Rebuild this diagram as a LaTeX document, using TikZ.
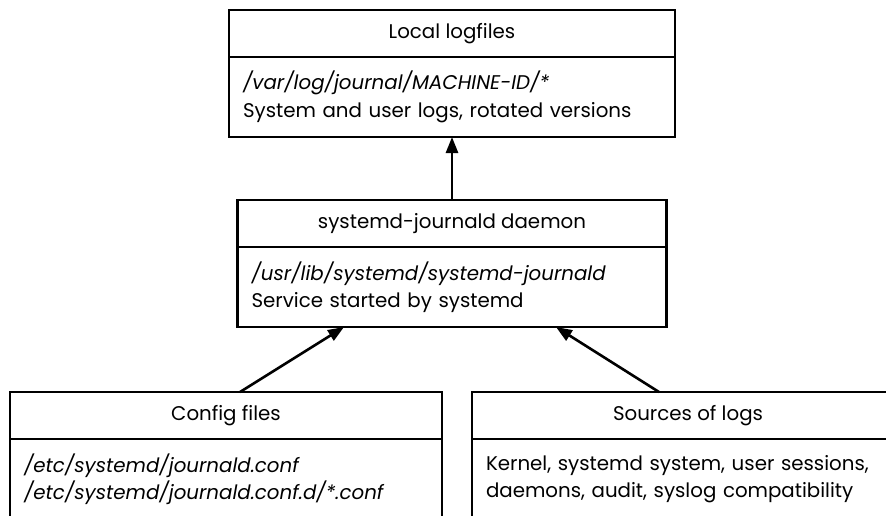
\documentclass[tikz,border=0pt]{standalone}
\usepackage{fontspec}
\setmainfont{Poppins}
\usetikzlibrary{arrows.meta, positioning}

\begin{document}
\begin{tikzpicture}[
  x=1pt, y=1pt,
  font=\fontsize{19.8}{27.5}\selectfont,
  head/.style = {draw, line width=2.5pt, outer sep=0pt, minimum height=47pt, align=center},
  body/.style = {draw, line width=2.5pt, outer sep=0pt, minimum height=80pt, inner xsep=14pt, align=left},
  feed/.style = {line width=2.6pt, -{Triangle[length=16pt, width=12pt]}},
  node distance=63pt
  ]
  \useasboundingbox (0,0) rectangle (886,-515);
  \clip (0,0) rectangle (886,-515);

    % Local logfiles
  \node[head, minimum width=446pt] (loghead) at (452,-33.5) {Local logfiles};
  \node[body, text width=418pt] (logbody) [below=0pt of loghead] {
    \textit{/var/log/journal/MACHINE-ID/*}\\
    System and user logs, rotated versions
  };

    % journald daemon
  \node[head, minimum width=429pt] (daemonhead) [below=of logbody] {systemd-journald daemon};
  \node[body, text width=401pt] (daemonbody) [below=0pt of daemonhead] {
    \textit{/usr/lib/systemd/systemd-journald}\\
    Service started by systemd
  };

    % Inputs
  \node[head, minimum width=432pt] (confhead) at (226,-415.5) {Config files};
  \node[body, text width=404pt] (confbody) [below=0pt of confhead] {
    \textit{/etc/systemd/journald.conf}\\
    \textit{/etc/systemd/journald.conf.d/*.conf}
  };
  \node[head, minimum width=432pt] (srchead) at (688,-415.5) {Sources of logs};
  \node[body, text width=404pt] (srcbody) [below=0pt of srchead] {
    Kernel, systemd system, user sessions,\\
    daemons, audit, syslog compatibility
  };

  \draw[feed] (daemonhead.north) -- (logbody.south);
  \draw[feed] ([xshift=14pt]confhead.north) -- ([xshift=-108pt]daemonbody.south);
  \draw[feed] ([xshift=-29pt]srchead.north) -- ([xshift=104pt]daemonbody.south);

\end{tikzpicture}
\end{document}
